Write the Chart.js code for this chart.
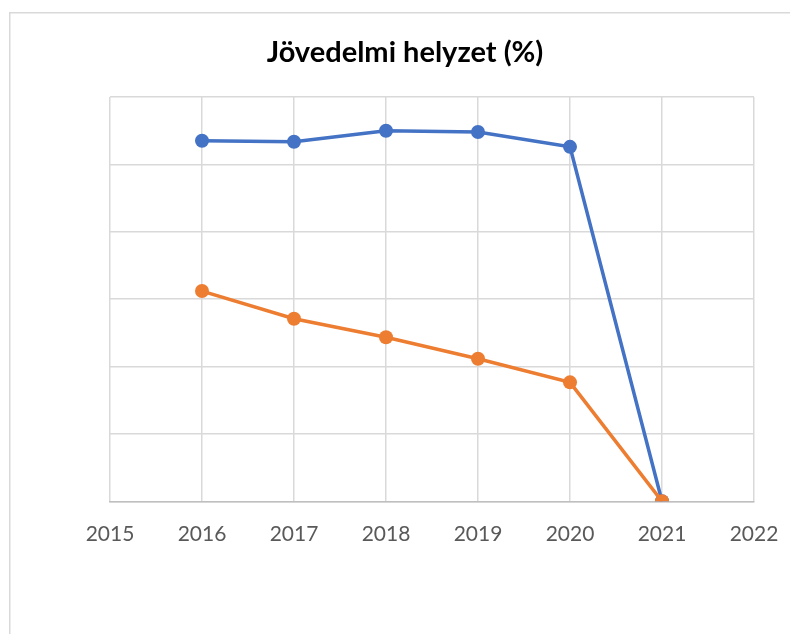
<!DOCTYPE html>
<html><head><meta charset="utf-8">
<script src="https://cdn.jsdelivr.net/npm/chart.js@4.4.1/dist/chart.umd.min.js"></script>
<style>html,body{margin:0;padding:0;background:#fff}#wrap{width:790px;height:634px;position:relative}</style>
</head><body><div id="wrap"><canvas id="c" width="790" height="634"></canvas></div>
<script>
const years = [2016, 2017, 2018, 2019, 2020, 2021];
const series1 = [107.0, 106.7, 110.0, 109.6, 105.2, 0];
const series2 = [62.4, 54.2, 48.7, 42.3, 35.3, 0];
const xMin = 2015, xMax = 2022;
const titleText = 'Jövedelmi helyzet (%)';

const frame = {
  id: 'frame',
  beforeDraw(chart) {
    const ctx = chart.ctx;
    ctx.save();
    ctx.fillStyle = '#fff';
    ctx.fillRect(0, 0, chart.width, chart.height);
    ctx.strokeStyle = '#d9d9d9';
    ctx.lineWidth = 1.5;
    ctx.strokeRect(9.75, 12.75, 900, 800);
    ctx.restore();
  }
};

new Chart(document.getElementById('c'), {
  type: 'line',
  data: {
    datasets: [
      { label: 'Sorozat1', data: years.map((y, i) => ({ x: y, y: series1[i] })),
        borderColor: '#4472C4', backgroundColor: '#4472C4', borderWidth: 3.5,
        pointRadius: 7, pointHoverRadius: 7, pointBorderWidth: 0, order: 1, tension: 0 },
      { label: 'Sorozat2', data: years.map((y, i) => ({ x: y, y: series2[i] })),
        borderColor: '#ED7D31', backgroundColor: '#ED7D31', borderWidth: 3.5,
        pointRadius: 7, pointHoverRadius: 7, pointBorderWidth: 0, order: 0, tension: 0 }
    ]
  },
  options: {
    responsive: false,
    animation: false,
    layout: { padding: { left: 20, right: 0, top: 0, bottom: 67.5 } },
    plugins: {
      legend: { display: false },
      tooltip: { enabled: false },
      title: {
        display: true, text: titleText, color: '#000',
        font: { family: 'Lato', size: 29, weight: 'bold' },
        padding: { top: 35, bottom: 27.2 }
      }
    },
    scales: {
      x: {
        type: 'linear', min: xMin, max: xMax,
        ticks: { stepSize: 1, color: '#595959', padding: 20,
          font: { family: 'Lato', size: 21 }, callback: v => String(v) },
        grid: { color: '#d9d9d9', lineWidth: 1.5, drawTicks: false },
        border: { color: '#bfbfbf', width: 1.5 },
        afterFit: s => { s.paddingLeft = 0; s.paddingRight = 0; }
      },
      y: {
        min: 0, max: 120,
        ticks: { display: false, stepSize: 20 },
        grid: { color: '#d9d9d9', lineWidth: 1.5, drawTicks: false },
        border: { display: false },
        afterFit: s => { s.width = 90; }
      },
      y2: {
        position: 'right', min: 0, max: 120,
        ticks: { display: false },
        grid: { display: false },
        border: { display: false },
        afterFit: s => { s.width = 36; }
      }
    }
  },
  plugins: [frame]
});
</script></body></html>
